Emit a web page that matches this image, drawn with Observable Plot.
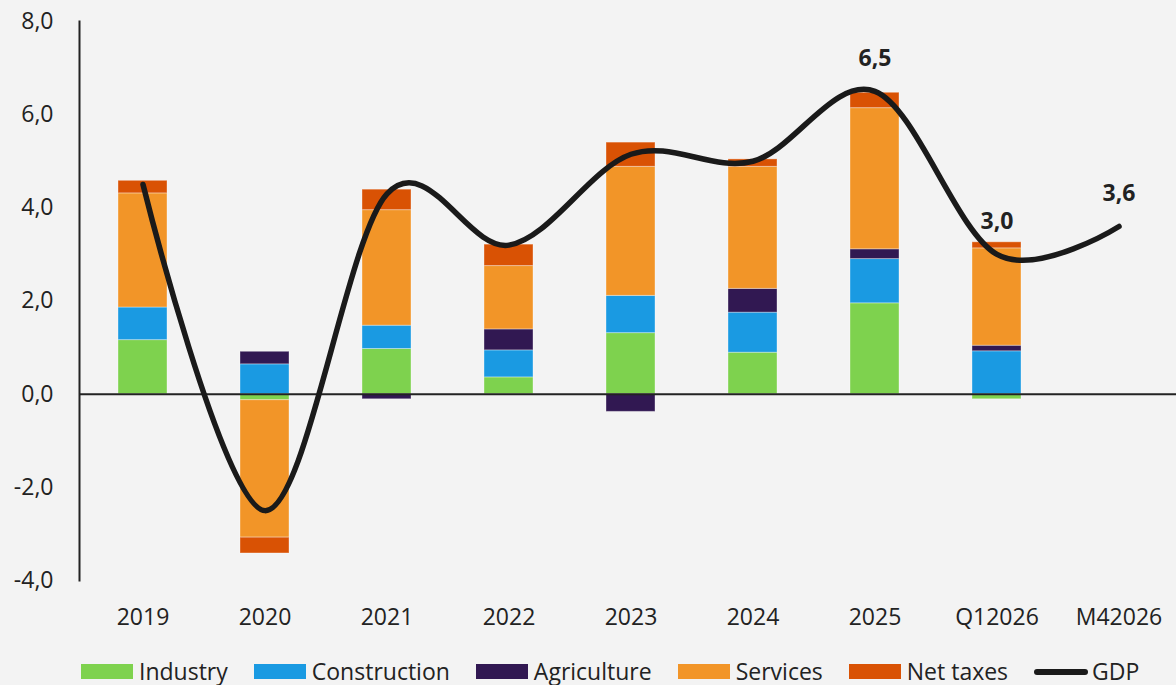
<!DOCTYPE html>
<html><head><meta charset="utf-8">
<script src="https://cdn.jsdelivr.net/npm/d3@7"></script>
<script src="https://cdn.jsdelivr.net/npm/@observablehq/plot@0.6"></script>
<style>
html,body{margin:0;padding:0;background:#f3f3f3;}
body{width:1176px;height:685px;overflow:hidden;font-family:"Open Sans",sans-serif;color:#222;}
#legend{display:flex;align-items:center;height:27px;padding-top:8px;padding-left:81px;font-size:23px;line-height:1;}
.item{display:flex;align-items:center;margin-right:26px}
.sw{width:52px;height:15px;margin-right:6px}
.ln{width:54px;height:6px;border-radius:3px;background:#1a1a1a;margin-right:4px}
</style></head><body><div id="chart"></div><div id="legend"></div>
<script>
const categories = ["2019","2020","2021","2022","2023","2024","2025","Q12026","M42026"];
const seriesNames = ["Industry","Construction","Agriculture","Services","Net taxes"];
const seriesColors = ["#7ed24e","#1a9ae2","#311852","#f29528","#d95204"];
const industry     = [1.16,-0.13, 0.97,0.36, 1.31,0.89,1.95,-0.11,null];
const construction = [0.70, 0.64, 0.50,0.58, 0.80,0.86,0.95, 0.92,null];
const agriculture  = [0.00, 0.27,-0.11,0.45,-0.38,0.51,0.21, 0.12,null];
const services     = [2.45,-2.95, 2.48,1.36, 2.77,2.62,3.03, 2.09,null];
const netTaxes     = [0.27,-0.34, 0.44,0.46, 0.52,0.16,0.33, 0.13,null];
const gdp          = [4.5,-2.5,4.3,3.2,5.15,5.0,6.5,3.0,3.6];
const labelledCategories = ["2025","Q12026","M42026"];
const yTicks = [-4,-2,0,2,4,6,8];

const seriesValues = [industry, construction, agriculture, services, netTaxes];
const fmt = d => d.toFixed(1).replace(".", ",");

const rows = [];
categories.forEach((c, i) => {
  seriesNames.forEach((s, j) => {
    const v = seriesValues[j][i];
    if (v !== null) rows.push({cat: c, series: s, value: v});
  });
});
const gdpRows = categories.map((c, i) => ({cat: c, gdp: gdp[i]}));
const labelRows = gdpRows.filter(d => labelledCategories.includes(d.cat));

const chart = Plot.plot({
  width: 1176, height: 650,
  marginLeft: 79, marginRight: 0, marginTop: 21, marginBottom: 70,
  style: {background: "transparent", fontFamily: "Open Sans", fontSize: "23px", color: "#222", overflow: "visible"},
  x: {domain: categories, range: [79, 1181], paddingInner: 0.6, paddingOuter: 0.3, label: null},
  y: {domain: [-4, 8], label: null},
  color: {domain: seriesNames, range: seriesColors},
  marks: [
    Plot.axisY({ticks: yTicks, tickSize: 0, tickPadding: 26, tickFormat: fmt, fontSize: 23, label: null}),
    Plot.axisX({tickSize: 0, tickPadding: 28, fontSize: 23, label: null}),
    Plot.barY(rows, {x: "cat", y: "value", fill: "series", stroke: "#ffffff", strokeOpacity: 0.35, strokeWidth: 1}),
    Plot.frame({anchor: "left", stroke: "#222", strokeWidth: 2}),
    Plot.ruleY([0], {stroke: "#222", strokeWidth: 2}),
    Plot.line(gdpRows, {x: "cat", y: "gdp", curve: "cardinal", stroke: "#1a1a1a", strokeWidth: 5.5, strokeLinecap: "round"}),
    Plot.text(labelRows, {x: "cat", y: "gdp", text: d => fmt(d.gdp), dy: -33, lineAnchor: "middle", fontWeight: "bold", fontSize: 23, fill: "#222"})
  ]
});
document.getElementById("chart").appendChild(chart);

const legend = document.getElementById("legend");
seriesNames.forEach((s, j) => {
  const it = document.createElement("div"); it.className = "item";
  const sw = document.createElement("div"); sw.className = "sw"; sw.style.background = seriesColors[j];
  const tx = document.createElement("span"); tx.textContent = s;
  it.appendChild(sw); it.appendChild(tx); legend.appendChild(it);
});
{
  const it = document.createElement("div"); it.className = "item";
  const ln = document.createElement("div"); ln.className = "ln";
  const tx = document.createElement("span"); tx.textContent = "GDP";
  it.appendChild(ln); it.appendChild(tx); legend.appendChild(it);
}
</script></body></html>
